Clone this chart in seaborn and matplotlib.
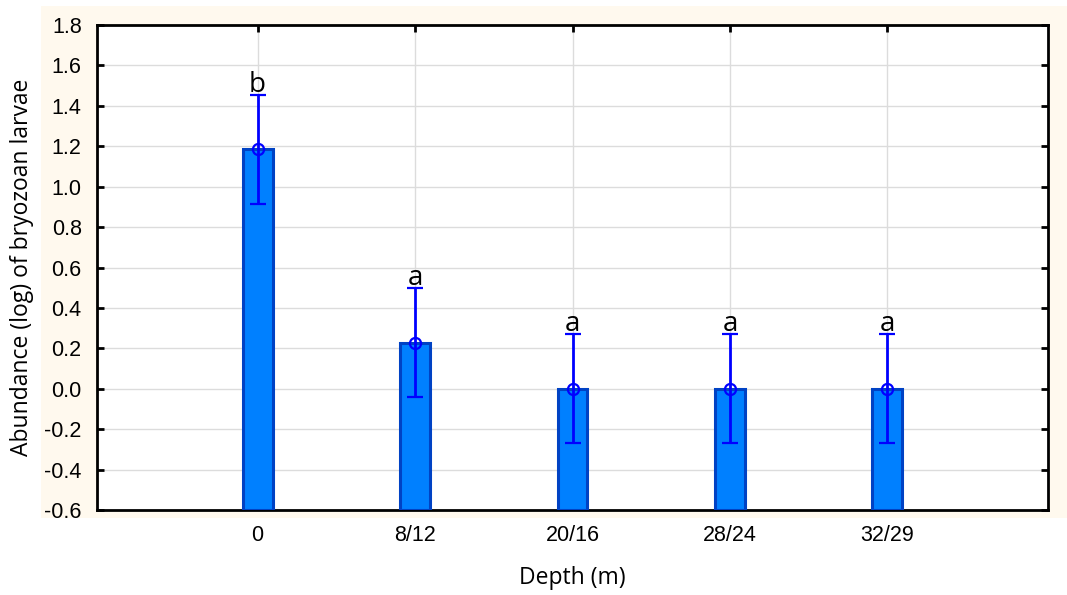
import matplotlib
matplotlib.use("Agg")
import matplotlib.pyplot as plt
from matplotlib.patches import Rectangle
import seaborn as sns
import pandas as pd

# Data: mean log abundance of bryozoan larvae by depth, with error half-widths
depths = ["0", "8/12", "20/16", "28/24", "32/29"]
means = [1.185, 0.228, 0.0, 0.0, 0.0]
errors = [0.27, 0.27, 0.27, 0.27, 0.27]
groups = ["b", "a", "a", "a", "a"]

y_ticks = [-0.6, -0.4, -0.2, 0.0, 0.2, 0.4, 0.6, 0.8, 1.0, 1.2, 1.4, 1.6, 1.8]

df = pd.DataFrame({"depth": depths, "abundance": means})

sns.set_style("white")
plt.rcParams["font.family"] = ["Liberation Sans", "DejaVu Sans"]
plt.rcParams["text.color"] = "black"
plt.rcParams["axes.labelcolor"] = "black"
label_font = ["Open Sans", "DejaVu Sans"]

fig = plt.figure(figsize=(10.67, 5.95), dpi=100)
fig.patch.set_facecolor("white")
# cream panel behind the plot area
fig.patches.append(Rectangle((41 / 1067, 77 / 595), 1 - 41 / 1067, (518 - 6) / 595,
                             transform=fig.transFigure, facecolor="#FFF9EE",
                             edgecolor="none", zorder=-10))

ax = fig.add_axes([97 / 1067, 85 / 595, 951 / 1067, 485 / 595])
ax.set_facecolor("white")
ax.set_zorder(1)

ymin, ymax = -0.6, 1.8
sns.barplot(data=df, x="depth", y="abundance", order=depths, ax=ax,
            width=0.19, color="#0080FF", saturation=1, edgecolor="#0042C4",
            linewidth=2.2, errorbar=None, zorder=3)

# bars rise from the bottom of the value axis
for rect in ax.patches:
    h = rect.get_y() + rect.get_height()
    rect.set_y(ymin)
    rect.set_height(h - ymin)

xs = list(range(len(depths)))
ax.errorbar(xs, means, yerr=errors, fmt="o", color="#0000FF", ecolor="#0000FF",
            mfc="none", mec="#0000FF", mew=1.6, ms=8, elinewidth=2,
            capsize=5.5, capthick=2, zorder=4)

for x, m, e, g in zip(xs, means, errors, groups):
    ax.text(x, m + e - 0.02, g, ha="center", va="bottom", fontsize=20,
            family=label_font, color="black", zorder=5)

ax.set_xlim(-1.02, 5.02)
ax.set_ylim(ymin, ymax)
ax.set_yticks(y_ticks)
ax.set_yticklabels([f"{v:.1f}" for v in y_ticks])
ax.set_xticks(xs)
ax.set_xticklabels(depths)

ax.grid(True, color="#DCDCDC", linewidth=1, zorder=0)
ax.set_axisbelow(True)

for s in ax.spines.values():
    s.set_visible(True)
    s.set_color("black")
    s.set_linewidth(2)

ax.tick_params(axis="both", which="major", direction="in", length=5, width=2,
               top=True, right=True, bottom=True, left=True,
               labelsize=15.5, colors="black")
ax.tick_params(axis="y", pad=11)
ax.tick_params(axis="x", pad=11)

ax.set_xlabel("Depth (m)", fontsize=16.5, family=label_font, color="black")
ax.set_ylabel("Abundance (log) of bryozoan larvae", fontsize=16.5,
              family=label_font, color="black")
ax.xaxis.set_label_coords(0.5, -0.115)
ax.yaxis.set_label_coords(-0.066, 0.5)

fig.savefig("out.png", dpi=100)
